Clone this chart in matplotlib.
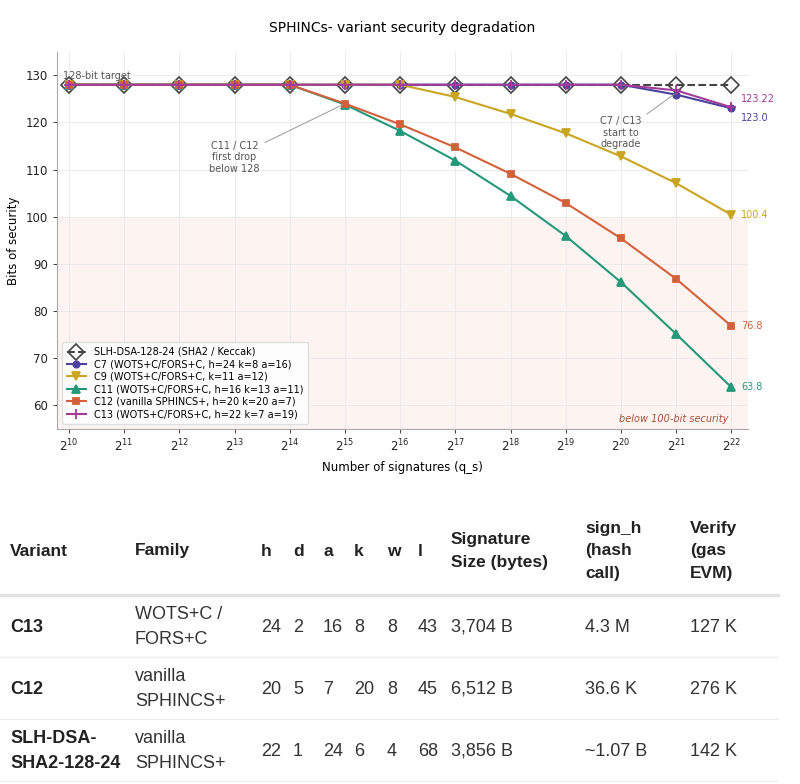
import matplotlib.pyplot as plt

# ---- chart data ----
exps = [10, 11, 12, 13, 14, 15, 16, 17, 18, 19, 20, 21, 22]
q_s = [2 ** e for e in exps]

slh_dsa = [128, 128, 128, 128, 128, 128, 128, 128, 128, 128, 128, 128, 128]
c7 = [128, 128, 128, 128, 128, 128, 128, 128, 128, 128, 128, 125.9, 123.0]
c9 = [128, 128, 128, 128, 128, 128, 128, 125.4, 121.8, 117.7, 112.8, 107.1, 100.4]
c11 = [128, 128, 128, 128, 128, 123.8, 118.2, 111.9, 104.4, 95.9, 86.1, 75.1, 63.8]
c12 = [128, 128, 128, 128, 128, 124.0, 119.6, 114.7, 109.1, 102.9, 95.4, 86.8, 76.8]
c13 = [128, 128, 128, 128, 128, 128, 128, 128, 128, 128, 128, 126.8, 123.22]

labels = [
    "C7 (WOTS+C/FORS+C, h=24 k=8 a=16)",
    "C9 (WOTS+C/FORS+C, k=11 a=12)",
    "C11 (WOTS+C/FORS+C, h=16 k=13 a=11)",
    "C12 (vanilla SPHINCS+, h=20 k=20 a=7)",
    "C13 (WOTS+C/FORS+C, h=22 k=7 a=19)",
]

# ---- table data ----
tbl_variant = ["C13", "C12", "SLH-DSA-\nSHA2-128-24"]
tbl_family = ["WOTS+C /\nFORS+C", "vanilla\nSPHINCS+", "vanilla\nSPHINCS+"]
tbl_h = [24, 20, 22]
tbl_d = [2, 5, 1]
tbl_a = [16, 7, 24]
tbl_k = [8, 20, 6]
tbl_w = [8, 8, 4]
tbl_l = [43, 45, 68]
tbl_size = ["3,704 B", "6,512 B", "3,856 B"]
tbl_sign = ["4.3 M", "36.6 K", "~1.07 B"]
tbl_verify = ["127 K", "276 K", "142 K"]

fig = plt.figure(figsize=(8, 7.84), dpi=100)
ax = fig.add_axes([0.071, 0.453, 0.864, 0.481])

# shaded region below 100 bits
ax.axhspan(50, 100, color="#fdf4f1", zorder=0)

ax.plot(q_s, slh_dsa, ls="--", color="#444444", lw=1.5, marker="D", ms=8,
        mfc="none", mec="#444444", mew=1.2, label="SLH-DSA-128-24 (SHA2 / Keccak)", zorder=2)

series = [c7, c9, c11, c12, c13]
colors = ["#4b42a0", "#c9a521", "#24997a", "#d2613b", "#a23c98"]
markers = ["o", "v", "^", "s", "+"]
sizes = [4.5, 5.5, 5.5, 4.5, 7]
for ys, col, mk, ms, lab in zip(series, colors, markers, sizes, labels):
    ax.plot(q_s, ys, color=col, lw=1.5, marker=mk, ms=ms, mew=1.3, label=lab, zorder=3)

# end-of-line value labels
end_offsets = [-7, 0, 0, 0, 6]
for ys, col, dy in zip(series, colors, end_offsets):
    v = ys[-1]
    txt = f"{v:g}" if v != 123.0 else "123.0"
    ax.annotate(txt, (q_s[-1], v), xytext=(7, dy), textcoords="offset points",
                va="center", ha="left", fontsize=7, color=col)

ax.text(2 ** 9.9, 129.9, "128-bit target", fontsize=7, color="#555555", va="center")
ax.annotate("C11 / C12\nfirst drop\nbelow 128", xy=(2 ** 15, 124.0), xytext=(2 ** 13.0, 112.6),
            ha="center", va="center", fontsize=7, color="#555555",
            arrowprops=dict(arrowstyle="-", color="#999999", lw=0.7))
ax.annotate("C7 / C13\nstart to\ndegrade", xy=(2 ** 21, 126.3), xytext=(2 ** 20.0, 117.8),
            ha="center", va="center", fontsize=7, color="#555555",
            arrowprops=dict(arrowstyle="-", color="#999999", lw=0.7))
ax.text(2 ** 21.95, 57.1, "below 100-bit security", fontsize=7, style="italic",
        color="#a0523d", ha="right", va="center")

ax.set_xscale("log", base=2)
ax.set_xticks(q_s)
ax.set_xlim(2 ** 9.78, 2 ** 22.3)
ax.set_ylim(55, 135)
ax.set_yticks([60, 70, 80, 90, 100, 110, 120, 130])
ax.tick_params(labelsize=8.5, colors="#222222", length=3, width=0.6)
ax.grid(True, color="#e8e8e8", lw=0.6)
ax.set_axisbelow(True)
for s in ["top", "right"]:
    ax.spines[s].set_visible(False)
for s in ["left", "bottom"]:
    ax.spines[s].set_color("#aaaaaa")
ax.set_xlabel("Number of signatures (q_s)", fontsize=8.5, labelpad=5)
ax.set_ylabel("Bits of security", fontsize=8.5)
ax.set_title("SPHINCs- variant security degradation", fontsize=10, pad=14)
ax.legend(loc="lower left", fontsize=7, frameon=True, edgecolor="#dddddd", framealpha=0.9,
          handlelength=2.0, borderpad=0.5, labelspacing=0.25)

# ---- table below the chart (pixel coordinates) ----
tx = fig.add_axes([0, 0, 1, 1])
tx.set_xlim(0, 800)
tx.set_ylim(784, 0)
tx.axis("off")

font = "Liberation Sans"
hdr = dict(fontsize=12.5, fontweight="bold", color="#222222", family=font,
           va="center", ha="left", linespacing=1.65)
body = dict(fontsize=13, color="#333333", family=font, va="center", ha="left", linespacing=1.55)

col_x = [10, 135, 261, 293, 323, 354, 387, 418, 451, 585, 690]
headers = ["Variant", "Family", "h", "d", "a", "k", "w", "l",
           "Signature\nSize (bytes)", "sign_h\n(hash\ncall)", "Verify\n(gas\nEVM)"]
for x, h in zip(col_x, headers):
    tx.text(x, 551, h, **hdr)

tx.plot([0, 778], [595, 595], color="#e3e3e3", lw=2.5)
row_y = [627, 689, 751]
for i, y in enumerate(row_y):
    tx.text(col_x[0], y, tbl_variant[i], **{**body, "fontweight": "bold", "color": "#222222"})
    tx.text(col_x[1], y, tbl_family[i], **body)
    vals = [tbl_h[i], tbl_d[i], tbl_a[i], tbl_k[i], tbl_w[i], tbl_l[i],
            tbl_size[i], tbl_sign[i], tbl_verify[i]]
    for x, v in zip(col_x[2:], vals):
        tx.text(x, y, str(v), **body)
    tx.plot([0, 778], [y + 30, y + 30], color="#ececec", lw=1)

fig.savefig("out.png", dpi=100)
